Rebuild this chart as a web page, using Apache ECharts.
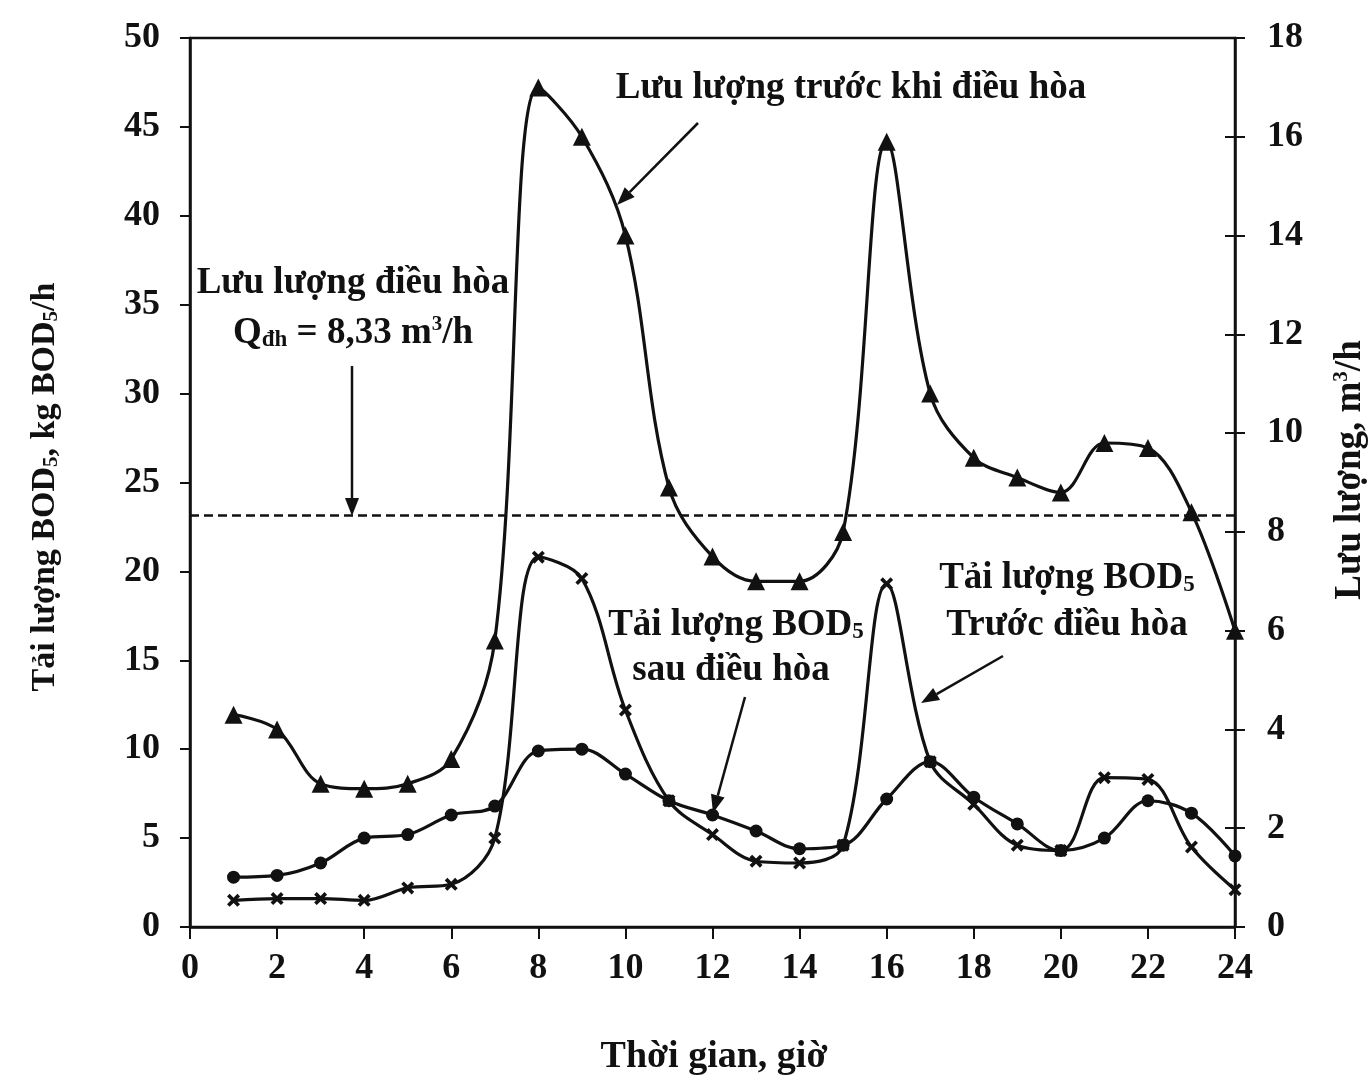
<!DOCTYPE html>
<html>
<head>
<meta charset="utf-8">
<script src="https://cdn.jsdelivr.net/npm/echarts@6/dist/echarts.min.js"></script>
<style>
  html, body { margin: 0; padding: 0; background: #fff; }
  #chart { width: 1372px; height: 1080px; }
</style>
</head>
<body>
<div id="chart"></div>
<script>
// Hour of day (h)
const hours = [1, 2, 3, 4, 5, 6, 7, 8, 9, 10, 11, 12, 13, 14, 15, 16, 17, 18, 19, 20, 21, 22, 23, 24];
// Flow before equalization, m3/h (right axis)
const flowBefore = [4.3, 4.0, 2.9, 2.8, 2.9, 3.4, 5.8, 17.0, 16.0, 14.0, 8.9, 7.5, 7.0, 7.0, 8.0, 15.9, 10.8, 9.5, 9.1, 8.8, 9.8, 9.7, 8.4, 6.0];
// BOD5 load before equalization, kg BOD5/h (left axis)
const bodBefore = [1.5, 1.6, 1.6, 1.5, 2.2, 2.4, 5.0, 20.8, 19.6, 12.2, 7.1, 5.2, 3.7, 3.6, 4.6, 19.3, 9.3, 6.9, 4.6, 4.3, 8.4, 8.3, 4.5, 2.1];
// BOD5 load after equalization, kg BOD5/h (left axis)
const bodAfter = [2.8, 2.9, 3.6, 5.0, 5.2, 6.3, 6.8, 9.9, 10.0, 8.6, 7.1, 6.3, 5.4, 4.4, 4.6, 7.2, 9.3, 7.3, 5.8, 4.3, 5.0, 7.1, 6.4, 4.0];
// Equalized flow, m3/h
const equalizedFlow = 8.33;

const FONT = '"Liberation Serif", "DejaVu Serif", serif';
const INK = '#111';

const pairs = (vals) => hours.map((h, i) => [h, vals[i]]);

// filled diagonal cross used as the BOD5-before marker
const crossSymbol = 'path://M2,0 L5,3 L8,0 L10,2 L7,5 L10,8 L8,10 L5,7 L2,10 L0,8 L3,5 L0,2 Z';

function arrow(x1, y1, x2, y2) {
  const ang = Math.atan2(y2 - y1, x2 - x1);
  const L = 18, W = 7;
  const bx = x2 - L * Math.cos(ang), by = y2 - L * Math.sin(ang);
  const px = -Math.sin(ang) * W, py = Math.cos(ang) * W;
  return [
    { type: 'line', shape: { x1: x1, y1: y1, x2: bx, y2: by }, style: { stroke: INK, lineWidth: 2.5 } },
    { type: 'polygon', shape: { points: [[x2, y2], [bx + px, by + py], [bx - px, by - py]] }, style: { fill: INK } }
  ];
}

function label(text, x, y, size, extra) {
  const s = size || 37;
  const subSize = Math.round(s * 0.62);
  const el = {
    type: 'text', x: x, y: y,
    style: {
      text: text, fill: INK, font: 'bold ' + s + 'px ' + FONT,
      textAlign: 'center', textVerticalAlign: 'middle',
      rich: {
        sub: { fontSize: subSize, fontWeight: 'bold', fontFamily: FONT, fill: INK, verticalAlign: 'bottom', padding: [Math.round(s * 0.4), 0, 0, 0] },
        sup: { fontSize: subSize - 2, fontWeight: 'bold', fontFamily: FONT, fill: INK, verticalAlign: 'top', padding: [0, 0, Math.round(s * 0.4), 0] }
      }
    }
  };
  return Object.assign(el, extra || {});
}

const chart = echarts.init(document.getElementById('chart'), null, { renderer: 'canvas' });

const axisLabelStyle = { color: INK, fontFamily: FONT, fontSize: 36, fontWeight: 'bold' };

chart.setOption({
  backgroundColor: '#fff',
  animation: false,
  grid: { left: 190, right: 137, top: 38, bottom: 153, show: true, borderColor: INK, borderWidth: 2.5, backgroundColor: 'transparent' },
  xAxis: {
    type: 'value', min: 0, max: 24, interval: 2,
    axisLine: { lineStyle: { color: INK, width: 2.5 } },
    axisTick: { length: 12, lineStyle: { color: INK, width: 2 } },
    axisLabel: Object.assign({ margin: 24 }, axisLabelStyle),
    splitLine: { show: false }
  },
  yAxis: [
    {
      type: 'value', min: 0, max: 50, interval: 5, position: 'left',
      axisLine: { show: true, lineStyle: { color: INK, width: 2.5 } },
      axisTick: { show: true, length: 10, lineStyle: { color: INK, width: 2 } },
      axisLabel: Object.assign({ margin: 30 }, axisLabelStyle),
      splitLine: { show: false }
    },
    {
      type: 'value', min: 0, max: 18, interval: 2, position: 'right',
      axisLine: { show: true, lineStyle: { color: INK, width: 2.5 } },
      axisTick: { show: true, length: 10, lineStyle: { color: INK, width: 2 } },
      axisLabel: Object.assign({ margin: 32 }, axisLabelStyle),
      splitLine: { show: false }
    },
    {
      // inner half of the crossing ticks on the flow axis
      type: 'value', min: 0, max: 18, interval: 2, position: 'right',
      axisLine: { show: false },
      axisTick: { show: true, inside: true, length: 10, lineStyle: { color: INK, width: 2 } },
      axisLabel: { show: false },
      splitLine: { show: false }
    }
  ],
  series: [
    {
      name: 'Lưu lượng trước khi điều hòa',
      type: 'line', yAxisIndex: 1, smooth: 0.35,
      data: pairs(flowBefore),
      symbol: 'triangle', symbolSize: 18,
      lineStyle: { color: INK, width: 3.2 },
      itemStyle: { color: INK },
      markLine: {
        silent: true, symbol: 'none', label: { show: false },
        lineStyle: { color: INK, width: 2.5, type: [9, 5] },
        data: [{ yAxis: equalizedFlow }]
      },
      z: 3
    },
    {
      name: 'Tải lượng BOD5 trước điều hòa',
      type: 'line', yAxisIndex: 0, smooth: 0.35,
      data: pairs(bodBefore),
      symbol: crossSymbol, symbolSize: 13,
      lineStyle: { color: INK, width: 3.2 },
      itemStyle: { color: INK },
      z: 3
    },
    {
      name: 'Tải lượng BOD5 sau điều hòa',
      type: 'line', yAxisIndex: 0, smooth: 0.35,
      data: pairs(bodAfter),
      symbol: 'circle', symbolSize: 13,
      lineStyle: { color: INK, width: 3.2 },
      itemStyle: { color: INK },
      z: 3
    }
  ],
  graphic: [
    // axis titles
    label('Tải lượng BOD{sub|5}, kg BOD{sub|5}/h', 45, 487, 34, { rotation: Math.PI / 2 }),
    label('Lưu lượng, m{sup|3}/h', 1350, 470, 37, { rotation: Math.PI / 2 }),
    label('Thời gian, giờ', 714, 1057, 38),
    // curve annotations
    label('Lưu lượng trước khi điều hòa', 851, 88),
    ...arrow(698, 123, 617, 205),
    label('Lưu lượng điều hòa', 353, 283),
    label('Q{sub|đh} = 8,33 m{sup|3}/h', 353, 333),
    ...arrow(352, 366, 352, 516),
    label('Tải lượng BOD{sub|5}', 736, 625),
    label('sau điều hòa', 731, 670),
    ...arrow(745, 697, 713, 813),
    label('Tải lượng BOD{sub|5}', 1067, 578),
    label('Trước điều hòa', 1067, 625),
    ...arrow(1003, 656, 921, 703)
  ]
});
</script>
</body>
</html>
